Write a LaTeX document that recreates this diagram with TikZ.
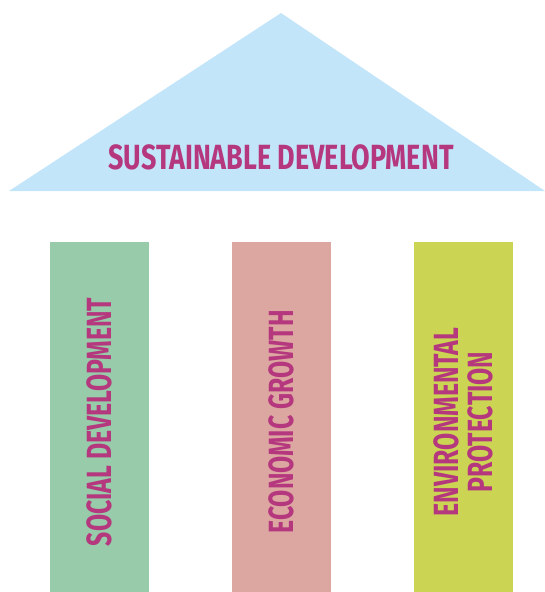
\documentclass[tikz,border=0pt]{standalone}
\usepackage{fontspec}
\usepackage{xcolor}
\usepackage{tikz}
\usetikzlibrary{positioning}
\newfontfamily\rooffont[FakeStretch=0.77]{Fira Sans}
\newfontfamily\pillarfont[FakeStretch=0.71]{Fira Sans}
\definecolor{roofblue}{HTML}{C3E5F9}
\definecolor{socialgreen}{HTML}{97CBA9}
\definecolor{econpink}{HTML}{DDA7A1}
\definecolor{envlime}{HTML}{CCD454}
\definecolor{labelmagenta}{HTML}{B5387F}
\tikzset{
  rooflabel/.style={text=labelmagenta, inner sep=0pt, font=\rooffont\bfseries\fontsize{35}{35}\selectfont},
  pillar/.style={minimum width=99pt, minimum height=350pt, inner sep=0pt},
  pillarlabel/.style={rotate=90, inner sep=0pt, align=center, text=labelmagenta,
    font=\pillarfont\bfseries\fontsize{35}{34}\selectfont}
}

\begin{document}
\begin{tikzpicture}[x=1pt, y=-1pt]
\useasboundingbox (0,0) rectangle (545,592);
% roof
\coordinate (apex) at (281,13);
\coordinate (eaveleft) at (9,191);
\coordinate (eaveright) at (545,191);
\fill[roofblue] (eaveleft) -- (apex) -- (eaveright) -- cycle;
\node[rooflabel] (roof) at (281,157) {SUSTAINABLE DEVELOPMENT};
% pillars
\node[pillar, fill=socialgreen] (social) at (99.5,417) {};
\node[pillar, fill=econpink] (economic) at (281.5,417) {};
\node[pillar, fill=envlime] (environment) at (463.5,417) {};
\node[pillarlabel] (sociallabel) at ([yshift=-5pt]social.center) {SOCIAL DEVELOPMENT};
\node[pillarlabel] (economiclabel) at ([yshift=-5pt]economic.center) {ECONOMIC GROWTH};
\node[pillarlabel] (environmentlabel) at ([yshift=-5pt]environment.center) {ENVIRONMENTAL\\PROTECTION};
\end{tikzpicture}
\end{document}
